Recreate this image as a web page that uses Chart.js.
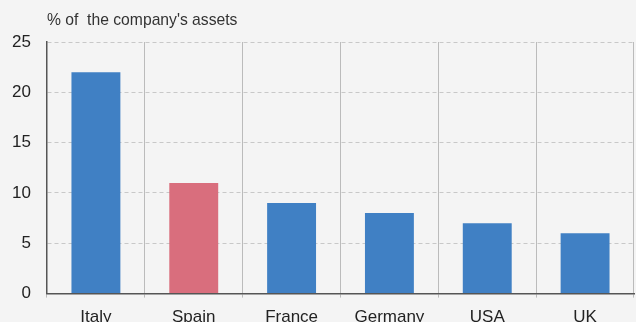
<!DOCTYPE html>
<html>
<head>
<meta charset="utf-8">
<script src="https://cdn.jsdelivr.net/npm/chart.js@4/dist/chart.umd.min.js"></script>
<style>
    html, body { margin: 0; padding: 0; background: #f4f4f4; overflow: hidden; }
    #wrap { position: relative; width: 636px; height: 338px; }
</style>
</head>
<body>
<div id="wrap"><canvas id="CanvasAssetsPerCountry"></canvas></div>
<script>
const countries = ["Italy", "Spain", "France", "Germany", "USA", "UK"];
const assetShares = [22, 11, 9, 8, 7, 6];
const yTicks = [0, 5, 10, 15, 20, 25];
const unitLabel = "% of  the company's assets";

const blue = "#4080c4";
const red = "#d96e7d";
const fontFamily = "'Liberation Sans', Arial, sans-serif";

// Spain is highlighted, every other country is blue
const barColors = countries.map(c => c === "Spain" ? red : blue);

// writes the unit label above the top left corner of the plot
const unitLabelPlugin = {
    id: 'unitLabel',
    afterDraw(chart) {
        const ctx = chart.ctx;
        ctx.save();
        ctx.font = "15.7px " + fontFamily;
        ctx.fillStyle = "#333";
        ctx.textBaseline = "middle";
        ctx.fillText(unitLabel, chart.chartArea.left, 21);
        ctx.restore();
    }
};

let canvas = document.getElementById("CanvasAssetsPerCountry");

new Chart(canvas, {
    type: 'bar',
    data: {
        labels: countries,
        datasets: [{
            data: assetShares,
            backgroundColor: barColors,
            borderWidth: 0,
            categoryPercentage: 1,
            barPercentage: 0.5
        }]
    },
    options: {
        responsive: true,
        maintainAspectRatio: false,
        animation: false,
        layout: {
            padding: { top: 42, left: 0, right: 2, bottom: 0 }
        },
        plugins: {
            legend: { display: false },
            tooltip: { enabled: false }
        },
        scales: {
            x: {
                grid: {
                    color: "#bbbbbb",
                    lineWidth: 1,
                    tickLength: 4,
                    offset: true
                },
                border: { color: "#555", width: 1.5 },
                ticks: {
                    color: "#222",
                    padding: 10,
                    font: { family: fontFamily, size: 17 }
                }
            },
            y: {
                min: 0,
                max: 25,
                afterBuildTicks: axis => {
                    axis.ticks = yTicks.map(v => ({ value: v }));
                },
                afterFit: axis => {
                    axis.width = 47;
                },
                grid: {
                    color: "#c8c8c8",
                    lineWidth: 1,
                    drawTicks: false
                },
                // in v4 border.dash is what dashes the grid lines
                border: { color: "#555", width: 1.5, dash: [4, 3] },
                ticks: {
                    color: "#222",
                    padding: 16,
                    font: { family: fontFamily, size: 17 }
                }
            }
        }
    },
    plugins: [unitLabelPlugin]
});
</script>
</body>
</html>
